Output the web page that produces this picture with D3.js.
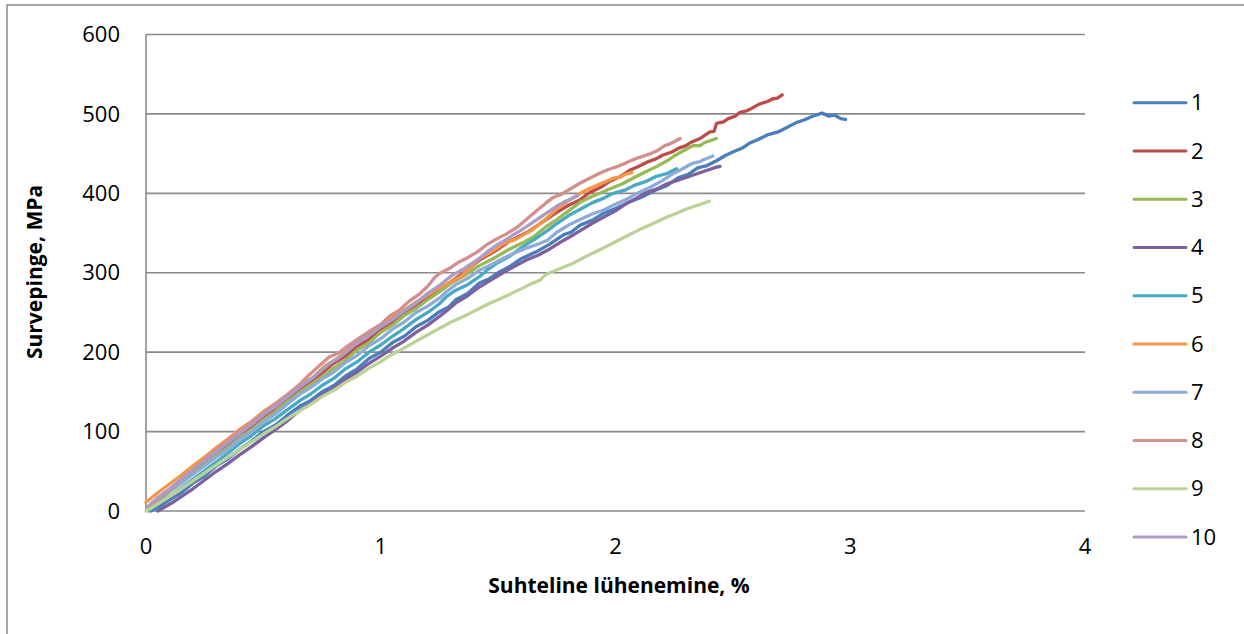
<!DOCTYPE html>
<html>
<head>
<meta charset="utf-8">
<script src="https://cdn.jsdelivr.net/npm/d3@7"></script>
<style>
  body { margin: 0; background: #fff; }
  svg { display: block; font-family: "Open Sans", "Noto Sans", sans-serif; }
</style>
</head>
<body>
<svg width="1244" height="634"></svg>
<script>
// strain (%) / stress (MPa) pairs
var s1 = [[0.02,0],[0.06,6],[0.1,14],[0.15,23],[0.2,35],[0.25,44],[0.3,57],[0.35,66],[0.4,78],[0.45,88],[0.5,100],[0.55,108],[0.6,120],[0.66,133],[0.7,139],[0.75,150],[0.8,158],[0.85,170],[0.9,179],[0.95,192],[1.0,200],[1.05,212],[1.1,220],[1.15,232],[1.2,240],[1.25,251],[1.29,257],[1.32,266],[1.37,274],[1.42,287],[1.46,292],[1.5,300],[1.55,308],[1.6,318],[1.66,326],[1.72,336],[1.78,348],[1.81,351],[1.85,360],[1.9,366],[1.95,375],[2.0,381],[2.06,389],[2.11,395],[2.17,404],[2.22,410],[2.27,420],[2.31,424],[2.35,432],[2.39,435],[2.43,441],[2.47,448],[2.5,452],[2.54,457],[2.57,463],[2.61,468],[2.65,474],[2.69,477],[2.73,483],[2.77,489],[2.8,492],[2.84,497],[2.88,501],[2.91,497],[2.93,499],[2.96,494],[2.98,493]];
var s2 = [[0.01,2],[0.05,13],[0.1,26],[0.15,37],[0.2,50],[0.25,61],[0.3,74],[0.35,84],[0.4,97],[0.45,107],[0.5,119],[0.55,129],[0.6,141],[0.66,155],[0.73,169],[0.8,186],[0.85,195],[0.9,207],[0.95,216],[1.0,228],[1.05,237],[1.1,248],[1.15,257],[1.2,268],[1.25,278],[1.3,289],[1.36,301],[1.42,316],[1.48,326],[1.55,340],[1.63,352],[1.71,368],[1.75,376],[1.8,385],[1.85,392],[1.89,401],[1.94,408],[1.98,416],[2.02,421],[2.06,429],[2.1,434],[2.14,440],[2.17,443],[2.2,448],[2.24,452],[2.27,457],[2.3,460],[2.32,464],[2.36,469],[2.4,477],[2.42,478],[2.43,488],[2.46,490],[2.48,494],[2.51,497],[2.53,502],[2.56,504],[2.58,507],[2.61,512],[2.63,514],[2.65,516],[2.67,519],[2.69,520],[2.71,524]];
var s3 = [[0.01,3],[0.05,12],[0.1,24],[0.15,35],[0.2,47],[0.25,58],[0.3,70],[0.35,80],[0.4,92],[0.45,102],[0.5,114],[0.55,125],[0.6,137],[0.66,150],[0.73,165],[0.8,180],[0.85,190],[0.9,203],[0.95,212],[1.0,225],[1.05,234],[1.1,246],[1.15,255],[1.2,266],[1.25,276],[1.3,287],[1.36,297],[1.42,309],[1.48,318],[1.55,330],[1.6,337],[1.65,345],[1.7,357],[1.75,367],[1.8,378],[1.85,389],[1.9,396],[1.94,401],[1.98,406],[2.03,412],[2.08,420],[2.12,426],[2.17,433],[2.22,441],[2.25,447],[2.28,452],[2.31,457],[2.33,460],[2.36,460],[2.38,464],[2.41,467],[2.43,469]];
var s4 = [[0.05,0],[0.08,5],[0.12,12],[0.16,20],[0.2,28],[0.25,39],[0.3,50],[0.35,60],[0.4,71],[0.45,81],[0.5,92],[0.55,102],[0.6,113],[0.66,128],[0.7,135],[0.75,146],[0.8,155],[0.85,166],[0.9,175],[0.95,186],[1.0,195],[1.05,205],[1.1,214],[1.15,225],[1.2,234],[1.25,245],[1.28,252],[1.32,262],[1.37,271],[1.42,282],[1.47,291],[1.52,300],[1.57,308],[1.62,316],[1.67,322],[1.72,330],[1.78,341],[1.81,346],[1.85,353],[1.9,362],[1.95,370],[2.0,378],[2.05,388],[2.09,394],[2.13,401],[2.18,406],[2.22,412],[2.26,416],[2.3,420],[2.35,425],[2.4,430],[2.43,433],[2.445,434]];
var s5 = [[0.01,0],[0.05,9],[0.1,18],[0.15,29],[0.2,40],[0.25,51],[0.3,62],[0.35,73],[0.4,85],[0.45,95],[0.5,107],[0.55,116],[0.6,127],[0.66,140],[0.7,147],[0.75,158],[0.8,167],[0.85,179],[0.9,188],[0.95,200],[1.0,209],[1.05,220],[1.1,230],[1.15,241],[1.2,250],[1.25,261],[1.28,270],[1.32,278],[1.37,285],[1.42,295],[1.46,305],[1.5,313],[1.55,321],[1.6,332],[1.65,341],[1.71,353],[1.75,362],[1.8,372],[1.85,380],[1.9,388],[1.95,394],[1.99,400],[2.04,404],[2.08,410],[2.13,415],[2.17,421],[2.22,425],[2.26,431]];
var s6 = [[0.0,11],[0.05,23],[0.1,34],[0.15,45],[0.2,57],[0.25,68],[0.3,80],[0.35,91],[0.4,103],[0.45,113],[0.5,125],[0.55,135],[0.6,146],[0.66,158],[0.71,168],[0.76,182],[0.82,193],[0.87,207],[0.91,214],[0.95,224],[1.0,233],[1.05,245],[1.1,253],[1.15,263],[1.2,272],[1.25,281],[1.3,289],[1.34,295],[1.38,306],[1.42,318],[1.47,326],[1.52,336],[1.58,343],[1.64,353],[1.7,367],[1.75,380],[1.8,391],[1.85,400],[1.89,406],[1.92,410],[1.96,415],[1.99,419],[2.02,420],[2.04,424],[2.07,426]];
var s7 = [[0.01,5],[0.05,14],[0.1,25],[0.15,35],[0.2,46],[0.25,57],[0.3,68],[0.35,78],[0.4,90],[0.45,100],[0.5,112],[0.55,122],[0.6,134],[0.66,148],[0.7,155],[0.75,166],[0.8,175],[0.85,187],[0.9,196],[0.95,208],[1.0,217],[1.05,229],[1.1,238],[1.15,250],[1.2,258],[1.25,268],[1.28,276],[1.32,285],[1.37,293],[1.42,303],[1.47,310],[1.52,318],[1.57,325],[1.62,331],[1.66,335],[1.71,341],[1.75,351],[1.8,360],[1.85,367],[1.9,374],[1.95,379],[1.99,385],[2.05,393],[2.1,401],[2.15,408],[2.2,416],[2.24,424],[2.28,430],[2.31,435],[2.33,438],[2.36,440],[2.38,443],[2.415,447]];
var s8 = [[0.01,3],[0.05,15],[0.1,27],[0.15,40],[0.2,52],[0.25,65],[0.3,77],[0.35,89],[0.4,101],[0.45,112],[0.5,124],[0.55,135],[0.6,146],[0.66,161],[0.69,170],[0.72,178],[0.75,186],[0.78,194],[0.82,199],[0.86,208],[0.9,216],[0.95,226],[1.0,235],[1.04,246],[1.08,253],[1.12,264],[1.16,272],[1.2,283],[1.23,294],[1.25,299],[1.29,305],[1.33,313],[1.37,319],[1.41,326],[1.45,335],[1.49,342],[1.53,348],[1.58,357],[1.62,367],[1.66,377],[1.7,387],[1.73,394],[1.77,399],[1.81,406],[1.85,413],[1.89,419],[1.93,425],[1.97,430],[2.01,434],[2.05,439],[2.08,443],[2.12,447],[2.15,450],[2.18,454],[2.21,460],[2.23,462],[2.25,465],[2.275,469]];
var s9 = [[0.0,0],[0.05,9],[0.1,18],[0.15,28],[0.2,38],[0.25,48],[0.3,58],[0.35,68],[0.4,78],[0.45,87],[0.5,97],[0.55,106],[0.6,116],[0.66,127],[0.7,134],[0.75,144],[0.8,152],[0.85,162],[0.9,170],[0.95,180],[1.0,188],[1.04,196],[1.08,202],[1.14,212],[1.2,222],[1.25,230],[1.3,238],[1.36,246],[1.42,255],[1.46,261],[1.5,266],[1.55,273],[1.6,280],[1.64,286],[1.68,291],[1.7,297],[1.72,300],[1.77,306],[1.82,312],[1.87,320],[1.92,327],[1.98,336],[2.04,345],[2.1,354],[2.16,362],[2.21,369],[2.26,375],[2.3,380],[2.34,384],[2.37,387],[2.4,390]];
var s10 = [[0.01,6],[0.05,17],[0.1,28],[0.15,40],[0.2,52],[0.25,63],[0.3,75],[0.35,86],[0.4,98],[0.45,109],[0.5,121],[0.55,131],[0.6,143],[0.66,157],[0.72,170],[0.78,185],[0.84,197],[0.9,212],[0.95,221],[1.0,232],[1.05,241],[1.1,252],[1.15,262],[1.2,274],[1.25,284],[1.3,296],[1.36,306],[1.42,318],[1.46,328],[1.5,336],[1.53,341],[1.56,347],[1.6,354],[1.64,362],[1.68,370],[1.72,378],[1.75,384],[1.78,389],[1.81,393],[1.84,397]];

var seriesNames = ["1","2","3","4","5","6","7","8","9","10"];
var seriesData = [s1,s2,s3,s4,s5,s6,s7,s8,s9,s10];
var colors = ["#4A7EBB","#BE4B48","#98B954","#7D60A0","#46AAC5","#F69546","#8EAAD8","#D48E8C","#BBD296","#AA9CC7"];

var xTicks = [0,1,2,3,4];
var yTicks = [0,100,200,300,400,500,600];

var svg = d3.select("svg");

// outer chart frame
svg.append("rect")
    .attr("x", 7).attr("y", 5)
    .attr("width", 1250).attr("height", 640)
    .attr("fill", "none")
    .attr("stroke", "#8a8a8a")
    .attr("stroke-width", 1.5);

var x = d3.scaleLinear().domain([0,4]).range([146,1085]),
    y = d3.scaleLinear().domain([0,600]).range([511,34.5]);

// horizontal gridlines
svg.append("g").selectAll("line")
    .data(yTicks)
  .enter().append("line")
    .attr("x1", x(0)).attr("x2", x(4))
    .attr("y1", function(d) { return y(d); })
    .attr("y2", function(d) { return y(d); })
    .attr("stroke", "#8a8a8a")
    .attr("stroke-width", 1.6);

svg.append("line")
    .attr("x1", x(0)).attr("x2", x(0))
    .attr("y1", y(0)).attr("y2", y(600))
    .attr("stroke", "#8a8a8a")
    .attr("stroke-width", 1.6);

// tick labels
svg.append("g").selectAll("text")
    .data(yTicks)
  .enter().append("text")
    .attr("x", 120)
    .attr("y", function(d) { return y(d); })
    .attr("dy", "0.35em")
    .attr("text-anchor", "end")
    .attr("font-size", 22)
    .text(function(d) { return d; });

svg.append("g").selectAll("text")
    .data(xTicks)
  .enter().append("text")
    .attr("x", function(d) { return x(d); })
    .attr("y", 546)
    .attr("dy", "0.35em")
    .attr("text-anchor", "middle")
    .attr("font-size", 22)
    .text(function(d) { return d; });

// axis titles
svg.append("text")
    .attr("transform", "translate(35,272) rotate(-90)")
    .attr("text-anchor", "middle")
    .attr("dy", "0.35em")
    .attr("font-size", 21)
    .attr("font-weight", "bold")
    .text("Survepinge, MPa");

svg.append("text")
    .attr("x", 619).attr("y", 586)
    .attr("text-anchor", "middle")
    .attr("dy", "0.35em")
    .attr("font-size", 21)
    .attr("font-weight", "bold")
    .text("Suhteline lühenemine, %");

var line = d3.line()
    .x(function(d) { return x(d[0]); })
    .y(function(d) { return y(d[1]); });

// draw series, last one on top like the original
svg.append("g").selectAll("path")
    .data(seriesData)
  .enter().append("path")
    .attr("d", line)
    .attr("fill", "none")
    .attr("stroke", function(d, i) { return colors[i]; })
    .attr("stroke-width", 3.3)
    .attr("stroke-linejoin", "round")
    .attr("stroke-linecap", "round");

// legend
var legend = svg.append("g").selectAll("g")
    .data(seriesNames)
  .enter().append("g")
    .attr("transform", function(d, i) { return "translate(0," + (102.7 + i * 48.25) + ")"; });

legend.append("line")
    .attr("x1", 1134).attr("x2", 1186)
    .attr("stroke", function(d, i) { return colors[i]; })
    .attr("stroke-width", 3)
    .attr("stroke-linecap", "round");

legend.append("text")
    .attr("x", 1191)
    .attr("dy", "0.35em")
    .attr("font-size", 22)
    .text(function(d) { return d; });
</script>
</body>
</html>
